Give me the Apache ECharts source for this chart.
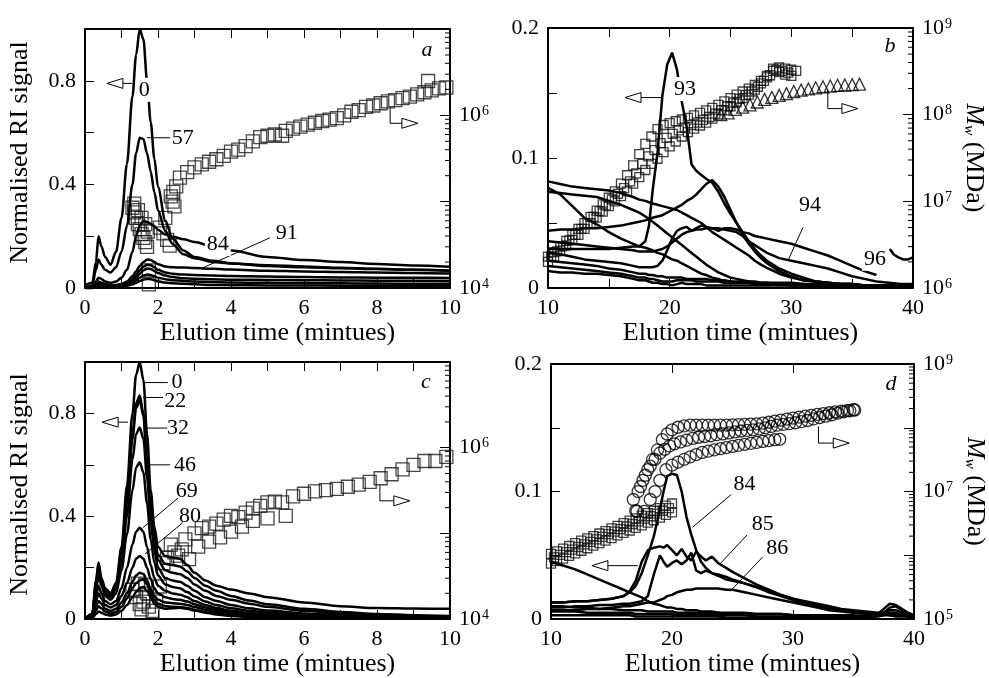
<!DOCTYPE html>
<html><head><meta charset="utf-8">
<script src="https://cdn.jsdelivr.net/npm/echarts@6/dist/echarts.min.js"></script>
<style>html,body{margin:0;padding:0;background:#fff}#c{width:989px;height:678px}</style>
</head><body><div id="c"></div>
<script>
// ---------------- DATA ----------------
// Panel a: RI signal (time in minutes)
const tA = [0,0.2,0.3,0.37,0.45,0.55,0.7,0.85,1.0,1.15,1.3,1.4,1.5,1.6,1.7,1.8,1.9,2.0,2.2,2.4,2.7,3.0,3.5,4.0,5.0,6.0,7.0,8.0,9.0,10.0];
const a0  = [0.01,0.02,0.1,0.2,0.16,0.12,0.09,0.14,0.27,0.48,0.74,0.9,1.0,0.96,0.8,0.64,0.5,0.39,0.26,0.19,0.145,0.12,0.105,0.095,0.085,0.08,0.076,0.073,0.07,0.068];
const a57 = [0,0.01,0.07,0.11,0.09,0.07,0.06,0.08,0.14,0.24,0.4,0.52,0.58,0.575,0.52,0.45,0.37,0.3,0.22,0.17,0.13,0.115,0.1,0.095,0.088,0.083,0.078,0.074,0.07,0.066];
const a84 = [0,0.005,0.025,0.04,0.035,0.025,0.02,0.025,0.04,0.07,0.14,0.2,0.24,0.26,0.255,0.248,0.238,0.225,0.207,0.198,0.188,0.178,0.16,0.145,0.12,0.108,0.1,0.093,0.087,0.082];
const a91 = [0,0,0.015,0.025,0.02,0.015,0.012,0.012,0.015,0.025,0.045,0.065,0.085,0.1,0.11,0.108,0.1,0.092,0.083,0.08,0.079,0.077,0.074,0.071,0.067,0.064,0.062,0.06,0.058,0.056];
const aX1 = [0,0,0.01,0.02,0.017,0.012,0.01,0.01,0.012,0.02,0.035,0.05,0.068,0.082,0.09,0.088,0.08,0.07,0.06,0.055,0.052,0.05,0.048,0.046,0.044,0.042,0.041,0.04,0.04,0.039];
const aX2 = [0,0,0.008,0.015,0.013,0.01,0.008,0.008,0.01,0.015,0.028,0.04,0.055,0.068,0.075,0.073,0.066,0.058,0.048,0.042,0.038,0.036,0.034,0.032,0.031,0.03,0.029,0.028,0.028,0.027];
const aX3 = [0,0,0.005,0.01,0.009,0.008,0.007,0.007,0.008,0.012,0.02,0.03,0.04,0.048,0.052,0.05,0.045,0.04,0.034,0.03,0.027,0.025,0.023,0.021,0.02,0.019,0.018,0.017,0.016,0.016];
const aX4 = [0,0,0.004,0.008,0.007,0.006,0.005,0.005,0.006,0.009,0.014,0.02,0.027,0.032,0.035,0.034,0.03,0.026,0.021,0.018,0.016,0.014,0.012,0.011,0.01,0.01,0.009,0.009,0.008,0.008];
// Panel a: Mw squares
const sqAt = [1.30,1.35,1.40,1.45,1.50,1.55,1.60,1.65,1.70,1.35,1.45,1.55,1.65,1.72,1.75,1.75,2.05,2.15,2.25,2.32,2.35,2.40,2.42,2.45,2.50,2.20,2.6,2.8,3.0,3.2,3.4,3.6,3.8,4.0,4.2,4.4,4.6,4.8,5.0,5.2,5.4,5.5,5.7,5.9,6.1,6.3,6.5,6.7,6.9,7.1,7.3,7.5,7.7,7.9,8.1,8.3,8.5,8.7,8.9,9.1,9.3,9.4,9.5,9.7,9.9];
const sqAm = [8.5e4,7.5e4,6.5e4,5.5e4,4.8e4,4.2e4,3.8e4,3.4e4,3.0e4,9.5e4,8.0e4,6.5e4,5.5e4,4.5e4,1.1e4,1.6e4,5.0e4,4.3e4,3.6e4,3.1e4,1.15e5,1.0e5,1.3e5,8.8e4,1.5e5,6.5e4,1.9e5,2.2e5,2.5e5,2.7e5,2.9e5,3.1e5,3.4e5,3.8e5,4.0e5,4.4e5,5.0e5,5.6e5,5.8e5,6.0e5,5.8e5,6.6e5,7.0e5,7.4e5,7.8e5,8.2e5,8.6e5,8.9e5,9.3e5,1.0e6,1.1e6,1.15e6,1.25e6,1.3e6,1.38e6,1.45e6,1.5e6,1.58e6,1.65e6,1.75e6,1.85e6,2.5e6,1.95e6,2.05e6,2.1e6];

// Panel b
const tB = [10,11,12,13,14,15,16,17,17.5,18,18.3,18.6,19,19.4,19.8,20.2,20.6,21,21.4,21.8,22.2,22.6,23,23.5,24,24.5,25,25.5,26,26.5,27,27.5,28,29,30,31,32,33,34,35,36,37,38,39,40];
const b93  = [0.03,0.03,0.03,0.03,0.03,0.03,0.031,0.032,0.032,0.036,0.048,0.075,0.104,0.148,0.172,0.181,0.168,0.143,0.124,0.095,0.09,0.087,0.084,0.081,0.074,0.065,0.057,0.05,0.043,0.036,0.03,0.025,0.021,0.015,0.011,0.008,0.005,0.004,0.003,0.003,0.002,0.002,0.002,0.002,0.0015];
const bPk  = [0.044,0.045,0.045,0.046,0.046,0.047,0.048,0.05,0.051,0.052,0.053,0.054,0.055,0.056,0.058,0.06,0.062,0.064,0.067,0.069,0.072,0.076,0.08,0.083,0.078,0.07,0.06,0.05,0.041,0.034,0.028,0.023,0.019,0.013,0.009,0.006,0.005,0.004,0.003,0.003,0.002,0.002,0.002,0.002,0.002];
const bPl  = [0.027,0.026,0.024,0.022,0.021,0.02,0.019,0.017,0.016,0.016,0.016,0.016,0.017,0.021,0.029,0.038,0.044,0.046,0.047,0.044,0.046,0.048,0.047,0.046,0.044,0.046,0.046,0.045,0.043,0.042,0.04,0.039,0.038,0.036,0.034,0.031,0.028,0.025,0.021,0.017,0.013,0.01,null,null,null];
const b94  = [0.036,0.035,0.034,0.033,0.032,0.031,0.03,0.029,0.028,0.028,0.028,0.028,0.029,0.03,0.032,0.035,0.038,0.041,0.043,0.044,0.045,0.045,0.046,0.046,0.046,0.045,0.044,0.043,0.04,0.036,0.033,0.03,0.027,0.023,0.021,0.019,0.017,0.015,0.012,0.009,0.007,0.005,0.004,0.003,0.003];
const bD1  = [0.082,0.08,0.078,0.077,0.076,0.075,0.073,0.07,0.068,0.067,0.066,0.065,0.064,0.063,0.062,0.061,0.06,0.058,0.056,0.054,0.052,0.05,0.047,0.043,0.04,0.037,0.034,0.031,0.028,0.025,0.021,0.018,0.0155,0.011,0.008,0.006,0.005,0.004,0.003,0.003,0.002,0.002,0.002,0.002,0.002];
const bD2  = [0.077,0.072,0.063,0.054,0.049,0.043,0.038,0.034,0.032,0.031,0.03,0.029,0.027,0.026,0.024,0.022,0.021,0.019,0.017,0.015,0.013,0.011,0.01,0.008,0.007,0.005,0.005,0.004,0.004,0.004,0.003,0.003,0.003,0.003,0.002,0.002,0.002,0.002,0.002,0.002,0.002,0.001,0.001,0.001,0.001];
const bD3  = [0.074,0.073,0.072,0.071,0.07,0.067,0.064,0.06,0.058,0.055,0.053,0.051,0.048,0.045,0.042,0.039,0.036,0.033,0.03,0.027,0.024,0.021,0.018,0.015,0.012,0.01,0.008,0.007,0.006,0.005,0.005,0.004,0.004,0.003,0.003,0.003,0.002,0.002,0.002,0.002,0.002,0.002,0.001,0.001,0.001];
const bL1  = [0.021,0.02,0.019,0.018,0.017,0.015,0.014,0.012,0.011,0.011,0.01,0.01,0.009,0.009,0.008,0.008,0.008,0.008,0.007,0.007,0.007,0.007,0.007,0.006,0.006,0.006,0.005,0.005,0.005,0.005,0.004,0.004,0.004,0.004,0.004,0.003,0.003,0.003,0.003,0.003,0.002,0.002,0.002,0.002,0.002];
const bL2  = [0.017,0.016,0.015,0.014,0.013,0.012,0.011,0.009,0.008,0.008,0.007,0.007,0.006,0.005,0.005,0.005,0.006,0.006,0.006,0.006,0.005,0.005,0.005,0.005,0.005,0.004,0.004,0.004,0.004,0.004,0.003,0.003,0.003,0.003,0.003,0.002,0.002,0.002,0.002,0.002,0.002,0.002,0.001,0.001,0.001];
const bL3  = [0.013,0.012,0.012,0.011,0.011,0.01,0.009,0.007,0.006,0.006,0.005,0.004,0.004,0.003,0.003,0.002,0.003,0.004,0.003,0.003,0.003,0.003,0.002,0.002,0.002,0.002,0.002,0.002,0.002,0.002,0.002,0.002,0.002,0.002,0.002,0.002,0.001,0.001,0.001,0.001,0.001,0.001,0.001,0.001,0.001];
const t96 = [38.1,38.4,38.8,39.2,39.6,40];
const b96 = [0.03,0.026,0.0235,0.022,0.022,0.0235];
const sqB1t = [10,10.5,11,11.5,12,12.5,13,13.5,14,14.5,15,15.5,16,16.5,17,17.5,18,18.5,19,19.5,20,20.5,21,21.5,22,22.5,23,23.5,24,24.5,25,25.5,26,26.5,27,27.5,28,28.5,29,29.5,30];
const sqB1m = [2.0e6,2.3e6,2.7e6,3.1e6,3.6e6,4.1e6,4.8e6,5.6e6,6.5e6,7.6e6,8.8e6,1.0e7,1.15e7,1.3e7,1.6e7,1.9e7,2.3e7,2.7e7,3.1e7,3.7e7,4.3e7,4.9e7,5.6e7,6.3e7,6.9e7,7.5e7,8.1e7,9.0e7,1.0e8,1.12e8,1.25e8,1.4e8,1.55e8,1.7e8,1.95e8,2.3e8,2.7e8,3.2e8,3.1e8,2.9e8,2.8e8];
const sqB2t = [10,10.5,11,11.5,12,12.5,13,13.5,14,14.5,15,15.5,16,16.5,17,17.5,18,18.5,19,19.5,20,20.5,21,21.5,22,22.5,23,23.5,24,24.5,25,25.5,26,26.5,27,27.5,28,28.5,29,29.5,30,30.4];
const sqB2m = [2.3e6,2.6e6,3.0e6,3.5e6,4.1e6,4.8e6,5.6e6,6.6e6,7.8e6,9.2e6,1.1e7,1.3e7,1.6e7,2.0e7,2.6e7,3.5e7,4.6e7,5.6e7,6.8e7,7.6e7,8.0e7,8.4e7,8.8e7,9.2e7,9.8e7,1.05e8,1.12e8,1.2e8,1.3e8,1.42e8,1.55e8,1.7e8,1.85e8,2.0e8,2.2e8,2.45e8,2.8e8,3.4e8,3.5e8,3.4e8,3.3e8,3.2e8];
const sqB3t = [10.25,10.75,11.25,11.75,12.25,12.75,13.25,13.75,14.25,14.75,15.25,15.75,16.25,16.75,17.25,17.75,18.25,18.75,19.25,19.75,20.25,20.75,21.25,21.75,22.25,22.75,23.25,23.75,24.25,24.75,25.25,25.75,26.25,26.75,27.25,27.75,28.25,28.75,29.25,29.75];
const sqB3m = [2.3e6,2.65e6,3.05e6,3.55e6,4.1e6,4.8e6,5.6e6,6.6e6,7.7e6,9.0e6,1.05e7,1.22e7,1.42e7,1.7e7,2.1e7,2.7e7,3.3e7,3.9e7,4.7e7,5.4e7,6.0e7,6.6e7,7.1e7,7.6e7,8.1e7,8.7e7,9.4e7,1.03e8,1.13e8,1.25e8,1.38e8,1.52e8,1.68e8,1.85e8,2.1e8,2.45e8,2.85e8,3.3e8,3.2e8,3.05e8];
const triBt = [24.2,24.8,25.4,26,26.6,27.2,27.8,28.4,29,29.6,30.2,30.8,31.4,32,32.6,33.2,33.8,34.4,35,35.6];
const triBm = [1.0e8,1.05e8,1.15e8,1.22e8,1.3e8,1.4e8,1.5e8,1.58e8,1.67e8,1.75e8,1.85e8,1.92e8,1.98e8,2.04e8,2.1e8,2.14e8,2.18e8,2.2e8,2.22e8,2.25e8];

// Panel c
const tC = [0,0.2,0.3,0.37,0.45,0.55,0.7,0.85,1.0,1.15,1.3,1.4,1.5,1.6,1.7,1.8,1.9,2.0,2.2,2.4,2.6,2.8,3.0,3.3,3.6,4.0,4.5,5.0,6.0,7.0,8.0,9.0,10.0];
const c0  = [0,0.02,0.15,0.22,0.16,0.12,0.1,0.14,0.28,0.52,0.8,0.95,1.0,0.93,0.72,0.5,0.36,0.28,0.245,0.24,0.235,0.21,0.18,0.15,0.13,0.115,0.1,0.085,0.065,0.05,0.043,0.041,0.04];
const c22 = [0,0.02,0.14,0.21,0.15,0.11,0.095,0.13,0.26,0.47,0.72,0.84,0.87,0.8,0.62,0.44,0.32,0.25,0.215,0.21,0.205,0.185,0.16,0.13,0.11,0.09,0.072,0.058,0.04,0.028,0.02,0.015,0.012];
const cX1 = [0,0.02,0.13,0.2,0.145,0.105,0.09,0.125,0.25,0.45,0.7,0.82,0.85,0.79,0.61,0.42,0.3,0.23,0.19,0.18,0.175,0.16,0.135,0.11,0.09,0.075,0.06,0.048,0.032,0.022,0.015,0.012,0.01];
const c32 = [0,0.02,0.12,0.19,0.14,0.1,0.085,0.115,0.22,0.4,0.62,0.72,0.745,0.7,0.55,0.38,0.27,0.2,0.16,0.15,0.145,0.13,0.11,0.085,0.07,0.055,0.042,0.033,0.022,0.015,0.011,0.009,0.008];
const c46 = [0,0.02,0.11,0.17,0.13,0.09,0.075,0.1,0.19,0.33,0.5,0.59,0.61,0.57,0.45,0.31,0.22,0.17,0.135,0.125,0.12,0.105,0.088,0.068,0.055,0.042,0.032,0.025,0.016,0.011,0.008,0.007,0.006];
const c69 = [0,0.015,0.09,0.13,0.1,0.07,0.058,0.07,0.12,0.2,0.29,0.34,0.355,0.34,0.28,0.21,0.16,0.13,0.11,0.1,0.095,0.085,0.07,0.055,0.043,0.032,0.024,0.018,0.011,0.008,0.006,0.005,0.005];
const c80 = [0,0.01,0.07,0.1,0.08,0.055,0.045,0.055,0.09,0.14,0.2,0.235,0.245,0.235,0.2,0.155,0.12,0.1,0.085,0.078,0.075,0.068,0.058,0.045,0.035,0.026,0.019,0.014,0.009,0.006,0.005,0.004,0.004];
const cX2 = [0,0.008,0.05,0.07,0.06,0.04,0.032,0.04,0.065,0.1,0.145,0.17,0.18,0.175,0.15,0.115,0.09,0.075,0.065,0.062,0.06,0.055,0.047,0.036,0.028,0.02,0.015,0.011,0.007,0.005,0.004,0.003,0.003];
const cX3 = [0,0.005,0.035,0.05,0.042,0.03,0.022,0.028,0.048,0.08,0.12,0.14,0.15,0.155,0.135,0.1,0.075,0.06,0.05,0.048,0.047,0.043,0.036,0.028,0.021,0.015,0.011,0.008,0.005,0.004,0.003,0.002,0.002];
const cX4 = [0,0.003,0.02,0.03,0.025,0.018,0.014,0.018,0.032,0.055,0.085,0.105,0.12,0.125,0.11,0.085,0.06,0.048,0.04,0.042,0.044,0.04,0.033,0.025,0.018,0.012,0.009,0.006,0.004,0.003,0.002,0.002,0.002];
const sqCt = [1.30,1.40,1.45,1.50,1.55,1.60,1.65,1.70,1.75,1.85,1.95,2.05,2.15,2.25,2.35,2.45,2.55,2.65,2.75,2.85,3.0,3.2,3.4,3.6,3.8,4.0,4.2,4.4,4.6,4.8,5.0,5.2,5.4,5.7,6.0,6.3,6.6,6.9,7.2,7.5,7.8,8.1,8.4,8.7,9.0,9.3,9.6,9.9,3.1,3.4,3.7,4.0,4.3,4.6,5.0,5.5];
const sqCm = [2.2e4,1.8e4,2.6e4,1.5e4,1.3e4,1.6e4,2.5e4,2.0e4,1.4e4,1.25e4,1.6e4,2.4e4,4.5e4,5.2e4,7.4e4,6.0e4,5.5e4,6.5e4,8.5e4,5.0e4,1.0e5,1.15e5,1.2e5,1.3e5,1.45e5,1.6e5,1.55e5,1.75e5,1.95e5,2.1e5,2.3e5,2.35e5,2.3e5,2.7e5,2.9e5,3.1e5,3.2e5,3.3e5,3.5e5,3.7e5,4.0e5,4.4e5,4.9e5,5.6e5,6.3e5,7.0e5,7.0e5,7.8e5,7.0e4,8.0e4,9.0e4,1.05e5,1.2e5,1.4e5,1.5e5,1.6e5];

// Panel d
const tD = [10,11,12,13,14,15,16,16.5,17,17.5,18,18.5,19,19.3,19.6,20,20.4,20.8,21.2,21.6,22,22.4,22.8,23.3,23.8,24.5,25,26,27,28,29,30,31,32,33,34,35,36,37,37.5,38,38.5,39,39.5,40];
const d84 = [0.013,0.013,0.014,0.014,0.015,0.016,0.018,0.021,0.026,0.036,0.05,0.065,0.086,0.1,0.112,0.114,0.113,0.1,0.08,0.066,0.054,0.045,0.04,0.036,0.034,0.031,0.03,0.028,0.025,0.022,0.019,0.016,0.014,0.012,0.01,0.008,0.007,0.006,0.005,0.005,0.004,0.004,0.003,0.003,0.003];
const d85 = [0.013,0.013,0.014,0.014,0.015,0.016,0.018,0.022,0.03,0.045,0.054,0.056,0.057,0.056,0.058,0.054,0.05,0.055,0.049,0.046,0.053,0.049,0.046,0.049,0.044,0.04,0.037,0.032,0.027,0.023,0.019,0.016,0.013,0.011,0.009,0.007,0.006,0.005,0.004,0.004,0.004,0.003,0.003,0.003,0.002];
const dZB = [0.009,0.009,0.01,0.01,0.011,0.011,0.012,0.012,0.013,0.014,0.018,0.035,0.05,0.045,0.041,0.044,0.046,0.043,0.046,0.052,0.038,0.036,0.038,0.036,0.035,0.033,0.031,0.028,0.025,0.021,0.018,0.015,0.012,0.01,0.008,0.007,0.006,0.005,0.004,0.004,0.003,0.003,0.003,0.002,0.002];
const d86 = [0.007,0.007,0.007,0.008,0.008,0.009,0.01,0.01,0.011,0.012,0.013,0.013,0.015,0.016,0.018,0.019,0.021,0.022,0.023,0.023,0.024,0.024,0.024,0.024,0.024,0.023,0.023,0.021,0.019,0.017,0.015,0.013,0.011,0.009,0.007,0.006,0.005,0.004,0.003,0.003,0.003,0.002,0.002,0.002,0.002];
const dDe = [0.045,0.042,0.039,0.035,0.031,0.027,0.023,0.021,0.019,0.017,0.014,0.012,0.011,0.01,0.009,0.009,0.008,0.008,0.007,0.007,0.007,0.006,0.006,0.006,0.005,0.005,0.005,0.005,0.004,0.004,0.004,0.003,0.003,0.003,0.003,0.003,0.002,0.002,0.003,0.005,0.009,0.01,0.007,0.004,0.002];
const dL1 = [0.01,0.01,0.009,0.009,0.008,0.008,0.007,0.007,0.007,0.007,0.006,0.006,0.006,0.006,0.006,0.006,0.005,0.005,0.005,0.005,0.005,0.005,0.005,0.005,0.005,0.004,0.004,0.004,0.004,0.004,0.004,0.003,0.003,0.003,0.003,0.003,0.003,0.002,0.004,0.008,0.012,0.011,0.008,0.005,0.003];
const dL2 = [0.006,0.006,0.006,0.005,0.005,0.005,0.005,0.005,0.004,0.004,0.004,0.004,0.004,0.004,0.004,0.004,0.003,0.003,0.003,0.003,0.003,0.003,0.003,0.003,0.003,0.003,0.003,0.003,0.002,0.002,0.002,0.002,0.002,0.002,0.002,0.002,0.002,0.002,0.003,0.005,0.007,0.007,0.005,0.003,0.002];
const dL3 = [0.003,0.003,0.003,0.003,0.003,0.003,0.003,0.003,0.002,0.002,0.002,0.002,0.002,0.002,0.002,0.002,0.002,0.002,0.002,0.002,0.002,0.002,0.002,0.002,0.002,0.001,0.001,0.001,0.001,0.001,0.001,0.001,0.001,0.001,0.001,0.001,0.001,0.001,0.002,0.003,0.005,0.005,0.003,0.002,0.001];
const sqDt = [10,10.5,11,11.5,12,12.5,13,13.5,14,14.5,15,15.5,16,16.5,17,17.5,18,18.5,19,19.5,20];
const sqD1m = [1.05e6,1.15e6,1.27e6,1.4e6,1.55e6,1.7e6,1.85e6,2.0e6,2.2e6,2.4e6,2.65e6,2.9e6,3.2e6,3.5e6,3.8e6,4.2e6,4.6e6,5.0e6,5.5e6,6.0e6,6.5e6];
const sqD2m = [7.4e5,8.1e5,8.9e5,9.8e5,1.07e6,1.18e6,1.29e6,1.42e6,1.55e6,1.7e6,1.86e6,2.05e6,2.25e6,2.45e6,2.7e6,2.95e6,3.25e6,3.55e6,3.9e6,4.3e6,4.7e6];
const sqD3t = [10.25,10.75,11.25,11.75,12.25,12.75,13.25,13.75,14.25,14.75,15.25,15.75,16.25,16.75,17.25,17.75,18.25,18.75,19.25,19.75];
const sqD3m = [9.3e5,1.02e6,1.12e6,1.23e6,1.35e6,1.48e6,1.62e6,1.78e6,1.95e6,2.15e6,2.35e6,2.58e6,2.83e6,3.1e6,3.4e6,3.75e6,4.1e6,4.5e6,5.0e6,5.5e6];
const cUt = [16.8,17.2,17.6,18,18.4,18.8,19.2,19.6,20,20.5,21,21.5,22,22.5,23,23.5,24,24.5,25,25.5,26,26.5,27,27.5,28,28.5,29,29.5,30,30.5,31,31.5,32,32.5,33,33.5,34,34.5,35];
const cUm = [7.5e6,1.0e7,1.5e7,2.2e7,3.2e7,4.5e7,6.5e7,8.0e7,9.3e7,1.02e8,1.07e8,1.1e8,1.1e8,1.1e8,1.1e8,1.1e8,1.1e8,1.1e8,1.11e8,1.12e8,1.13e8,1.14e8,1.15e8,1.18e8,1.22e8,1.27e8,1.32e8,1.37e8,1.42e8,1.47e8,1.52e8,1.57e8,1.62e8,1.67e8,1.72e8,1.77e8,1.82e8,1.87e8,1.92e8];
const cMt = [17.0,17.4,17.8,18.2,18.6,19.0,19.4,19.8,20.2,20.7,21.2,21.7,22.2,22.7,23.2,23.7,24.2,24.7,25.2,25.7,26.2,26.7,27.2,27.7,28.2,28.7,29.2,29.7,30.2,30.7,31.2,31.7,32.2,32.7,33.2,33.7,34.2,34.7,35.1];
const cMm = [5e6,1.2e7,1.8e7,2.5e7,3.2e7,4.0e7,4.6e7,5.2e7,5.6e7,6.0e7,6.4e7,6.8e7,7.1e7,7.3e7,7.5e7,7.8e7,8.0e7,8.3e7,8.6e7,8.9e7,9.1e7,9.3e7,9.6e7,1.0e8,1.05e8,1.1e8,1.13e8,1.16e8,1.2e8,1.25e8,1.3e8,1.38e8,1.45e8,1.52e8,1.6e8,1.7e8,1.78e8,1.85e8,1.9e8];
const cLt = [17.1,17.7,18.2,18.6,19.0,19.5,20.0,20.5,21.0,21.5,22.0,22.5,23.0,23.5,24.0,24.5,25.0,25.5,26.0,26.5,27.0,27.5,28.0,28.5,28.9];
const cLm = [4.9e6,4.9e6,7.5e6,1.0e7,1.5e7,2.2e7,2.6e7,2.9e7,3.2e7,3.5e7,3.8e7,4.1e7,4.3e7,4.5e7,4.7e7,4.9e7,5.1e7,5.3e7,5.5e7,5.7e7,5.9e7,6.1e7,6.3e7,6.5e7,6.6e7];

// Annotation texts (positions given in data coordinates of each panel)
const annots = [
  { labels: [['0',1.62,0.765,1],['57',2.68,0.58,0],['84',3.64,0.17,1],['91',5.53,0.213,0]],
    leaders: [[1.7,0.58,2.33,0.58],[3.23,0.078,5.07,0.194]],
    leftArrow: [0.6,0.79,1.29], rightArrow: [8.36,0.698,0.636,9.12], letter: ['a',9.37,0.92] },
  { labels: [['93',21.26,0.153,1],['94',31.53,0.0636,0],['96',36.87,0.0225,1]],
    leaders: [[30.95,0.0465,29.72,0.021]],
    leftArrow: [16.33,0.1465,19.37], rightArrow: [33.0,0.1527,0.138,35.47], letter: ['b',38.1,0.186] },
  { labels: [['0',2.52,0.92,0],['22',2.47,0.847,0],['32',2.55,0.743,0],['46',2.74,0.60,0],['69',2.79,0.498,0],['80',2.88,0.402,0]],
    leaders: [[1.59,0.92,2.27,0.92],[1.59,0.862,2.14,0.862],[1.64,0.743,2.25,0.743],[1.78,0.60,2.33,0.60],[1.59,0.356,2.55,0.471],[1.64,0.253,2.68,0.375]],
    leftArrow: [0.47,0.766,1.18], rightArrow: [8.08,0.521,0.46,8.9], letter: ['c',9.34,0.92] },
  { labels: [['84',26.0,0.1054,0],['85',27.5,0.0744,0],['86',28.7,0.0558,0]],
    leaders: [[21.7,0.072,24.9,0.0977],[23.9,0.0426,26.2,0.0659],[24.8,0.0217,27.5,0.0488]],
    leftArrow: [13.38,0.0419,17.17], rightArrow: [32.1,0.151,0.138,34.65], letter: ['d',38.1,0.1845] }
];

// ---------------- CHART ----------------
const FONT = "'Liberation Serif', serif";
const grids = [
  {left:85, top:29, width:365, height:259},
  {left:548, top:28, width:365, height:260},
  {left:85, top:362, width:365, height:261},
  {left:551, top:364, width:364, height:259}
];
const axLine = {onZero:false, lineStyle:{color:'#000', width:2}};
const tick = (len) => ({inside:true, length:len, lineStyle:{color:'#000', width:1}});

const xCfg = [[0,10,1,2],[10,40,5,10],[0,10,1,2],[10,40,10,10]];
const yCfg = [[1,0.2,[0,0.4,0.8]],[0.2,0.05,[0,0.1,0.2]],[1,0.2,[0,0.4,0.8]],[0.2,0.05,[0,0.1,0.2]]];
const logCfg = [[1e4,1e7,[4,6]],[1e6,1e9,[6,7,8,9]],[1e4,1e7,[4,6]],[1e5,1e9,[5,7,9]]];

const xAxis = [], yAxis = [];
grids.forEach((g, i) => {
  const [mn, mx, st, ls] = xCfg[i];
  xAxis.push({gridIndex:i, type:'value', position:'bottom', min:mn, max:mx, interval:st,
    axisLine:axLine, axisTick:tick(9), splitLine:{show:false},
    axisLabel:{color:'#000', fontFamily:FONT, fontSize:22, margin:9,
      formatter: v => { const r = v/ls; return Math.abs(r-Math.round(r))<1e-6 ? String(Math.round(v)) : ''; }},
    name:'Elution time (mintues)', nameLocation:'middle', nameGap:31,
    nameTextStyle:{color:'#000', fontFamily:FONT, fontSize:26, padding:[0,0,0,20]}});
  xAxis.push({gridIndex:i, type:'value', position:'top', min:mn, max:mx, interval:st,
    axisLine:axLine, axisTick:tick(9), splitLine:{show:false}, axisLabel:{show:false}});
  const [ymx, yst, ylab] = yCfg[i];
  const left = {gridIndex:i, type:'value', position:'left', min:0, max:ymx, interval:yst,
    axisLine:axLine, axisTick:tick(9), splitLine:{show:false},
    axisLabel:{color:'#000', fontFamily:FONT, fontSize:22, margin:9,
      formatter: v => { const hit = ylab.find(l => Math.abs(l-v)<1e-9); return hit===undefined ? '' : (hit===0 ? '0' : String(hit)); }}};
  if (i % 2 === 0) {
    left.name = 'Normalised RI signal'; left.nameLocation = 'middle'; left.nameGap = 52; left.nameRotate = 90;
    left.nameTextStyle = {color:'#000', fontFamily:FONT, fontSize:26, padding:[0,0,0,12]};
  }
  yAxis.push(left);
  const [lmn, lmx, llab] = logCfg[i];
  const right = {gridIndex:i, type:'log', logBase:10, position:'right', min:lmn, max:lmx,
    axisLine:axLine, axisTick:tick(10), splitLine:{show:false},
    axisLabel:{color:'#000', fontFamily:FONT, fontSize:22, margin:9,
      formatter: v => { const e = Math.round(Math.log10(v)); return llab.includes(e) ? '10{s|' + e + '}' : ''; },
      rich:{s:{fontSize:14, fontFamily:FONT, color:'#000', verticalAlign:'top', padding:[0,0,0,1]}}}};
  if (i % 2 === 1) {
    right.name = '{i|M}{w|w} (MDa)'; right.nameLocation = 'middle'; right.nameGap = 48; right.nameRotate = -90;
    right.nameTextStyle = {color:'#000', fontFamily:FONT, fontSize:26,
      rich:{i:{fontStyle:'italic', fontFamily:FONT, fontSize:26, color:'#000'},
            w:{fontStyle:'italic', fontFamily:FONT, fontSize:15, color:'#000', verticalAlign:'bottom'}}};
  }
  yAxis.push(right);
});

const series = [];
function addLines(g, xs, arrs, smooth) {
  arrs.forEach(arr => series.push({type:'line', xAxisIndex:2*g, yAxisIndex:2*g,
    data: xs.map((x, k) => [x, arr[k]]).filter(p => p[1] != null),
    symbol:'none', smooth: smooth, smoothMonotone:'x', silent:true, z:3,
    lineStyle:{color:'#000', width:2.5}}));
}
function addScatter(g, ts, ms, sym, size, col) {
  series.push({type:'scatter', xAxisIndex:2*g, yAxisIndex:2*g+1,
    data: ts.map((t, k) => [t, ms[k]]), symbol:sym, symbolSize:size, silent:true, z:2,
    itemStyle:{color:'rgba(0,0,0,0)', borderColor:col, borderWidth:1.3}});
}
function addMinorLogTicks(g) {
  const [lmn, lmx] = logCfg[g];
  const xEnd = xCfg[g][1];
  const d = [];
  for (let e = Math.round(Math.log10(lmn)); e < Math.round(Math.log10(lmx)); e++)
    for (let m = 2; m <= 9; m++) d.push([xEnd, m * Math.pow(10, e)]);
  series.push({type:'custom', xAxisIndex:2*g, yAxisIndex:2*g+1, data:d, clip:false, silent:true, z:5,
    renderItem: (p, api) => { const c = api.coord([api.value(0), api.value(1)]);
      return {type:'line', shape:{x1:c[0]-5, y1:c[1], x2:c[0], y2:c[1]}, style:{stroke:'#000', lineWidth:1}}; }});
}

addScatter(0, sqAt, sqAm, 'rect', 13, '#1a1a1a');
addLines(0, tA, [a0, a57, a84, a91, aX1, aX2, aX3, aX4], 0.3);
addScatter(1, sqB1t, sqB1m, 'rect', 9, '#111');
addScatter(1, sqB2t, sqB2m, 'rect', 9, '#111');
addScatter(1, sqB3t, sqB3m, 'rect', 9, '#111');
addScatter(1, triBt, triBm, 'triangle', 12, '#000');
addLines(1, tB, [b93, bPk, bPl, b94, bD1, bD2, bD3, bL1, bL2, bL3], false);
addLines(1, t96, [b96], false);
addScatter(2, sqCt, sqCm, 'rect', 13, '#1a1a1a');
addLines(2, tC, [c0, c22, cX1, c32, c46, c69, c80, cX2, cX3, cX4], 0.3);
addScatter(3, sqDt, sqD1m, 'rect', 9, '#111');
addScatter(3, sqDt, sqD2m, 'rect', 9, '#111');
addScatter(3, sqD3t, sqD3m, 'rect', 9, '#111');
addScatter(3, cUt, cUm, 'circle', 12, '#000');
addScatter(3, cMt, cMm, 'circle', 12, '#000');
addScatter(3, cLt, cLm, 'circle', 12, '#000');
addLines(3, tD, [d84, d85, dZB, d86, dDe, dL1, dL2, dL3], false);
[0,1,2,3].forEach(addMinorLogTicks);

const chart = echarts.init(document.getElementById('c'), null, {renderer:'canvas'});
chart.setOption({
  animation:false, backgroundColor:'#fff',
  textStyle:{fontFamily:FONT, color:'#000'},
  grid: grids, xAxis: xAxis, yAxis: yAxis, series: series
});

// annotations, placed through the panels' own axes
const els = [];
const P = (g, x, y) => chart.convertToPixel({xAxisIndex:2*g, yAxisIndex:2*g}, [x, y]);
annots.forEach((an, g) => {
  an.leaders.forEach(L => {
    const a = P(g, L[0], L[1]), b = P(g, L[2], L[3]);
    els.push({type:'line', z:100, shape:{x1:a[0], y1:a[1], x2:b[0], y2:b[1]}, style:{stroke:'#000', lineWidth:1}});
  });
  an.labels.forEach(Lb => {
    const p = P(g, Lb[1], Lb[2]);
    els.push({type:'text', z:101, style:{text:Lb[0], x:p[0], y:p[1], fill:'#000', font:"22px 'Liberation Serif'",
      align:'center', verticalAlign:'middle', backgroundColor: Lb[3] ? '#fff' : 'transparent', padding: Lb[3] ? [1,2] : 0}});
  });
  const la = an.leftArrow;
  const tip = P(g, la[0], la[1]), tail = P(g, la[2], la[1]);
  els.push({type:'line', z:100, shape:{x1:tip[0]+16, y1:tip[1], x2:tail[0], y2:tail[1]}, style:{stroke:'#000', lineWidth:1}});
  els.push({type:'polygon', z:100, shape:{points:[[tip[0],tip[1]],[tip[0]+16,tip[1]-5],[tip[0]+16,tip[1]+5]]}, style:{fill:'#fff', stroke:'#000', lineWidth:1}});
  const ra = an.rightArrow;
  const s = P(g, ra[0], ra[1]), c = P(g, ra[0], ra[2]), t = P(g, ra[3], ra[2]);
  els.push({type:'polyline', z:100, shape:{points:[s, c, [t[0]-16, t[1]]]}, style:{stroke:'#000', lineWidth:1, fill:null}});
  els.push({type:'polygon', z:100, shape:{points:[[t[0],t[1]],[t[0]-16,t[1]-5],[t[0]-16,t[1]+5]]}, style:{fill:'#fff', stroke:'#000', lineWidth:1}});
  const lp = P(g, an.letter[1], an.letter[2]);
  els.push({type:'text', z:101, style:{text:an.letter[0], x:lp[0], y:lp[1], fill:'#000', font:"italic 22px 'Liberation Serif'", align:'center', verticalAlign:'middle'}});
});
chart.setOption({graphic: els});
</script></body></html>
